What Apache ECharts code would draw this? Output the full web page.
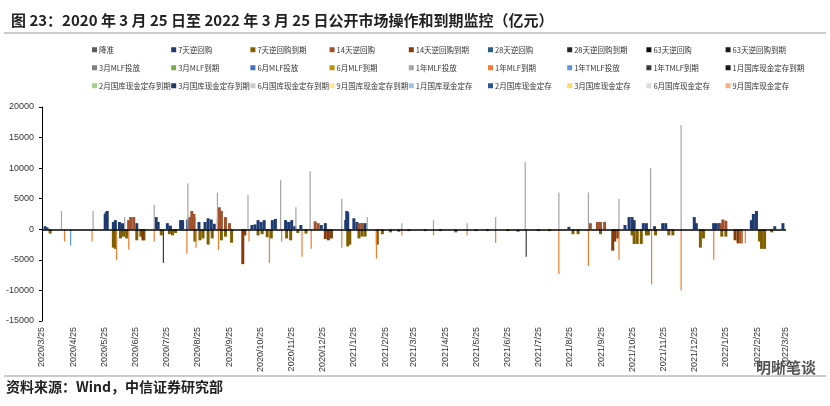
<!DOCTYPE html>
<html><head><meta charset="utf-8">
<script src="https://cdn.jsdelivr.net/npm/echarts@6/dist/echarts.min.js"></script>
<style>html,body{margin:0;padding:0;background:#fff}#c{width:830px;height:406px}</style>
</head><body><div id="c"></div>
<script>
const tickLabels = ['2020-03-25','2020-04-25','2020-05-25','2020-06-25','2020-07-25','2020-08-25','2020-09-25','2020-10-25','2020-11-25','2020-12-25','2021-01-25','2021-02-25','2021-03-25','2021-04-25','2021-05-25','2021-06-25','2021-07-25','2021-08-25','2021-09-25','2021-10-25','2021-11-25','2021-12-25','2022-01-25','2022-02-25','2022-03-25'];
const seriesNames = ['降准','7天逆回购','7天逆回购到期','14天逆回购','14天逆回购到期','28天逆回购','28天逆回购到期','63天逆回购','63天逆回购到期',
 '3月MLF投放','3月MLF到期','6月MLF投放','6月MLF到期','1年MLF投放','1年MLF到期','1年TMLF投放','1年TMLF到期','1月国库现金定存到期',
 '2月国库现金定存到期','3月国库现金定存到期','6月国库现金定存到期','9月国库现金定存到期','1月国库现金定存','2月国库现金定存','3月国库现金定存','6月国库现金定存','9月国库现金定存'];
const seriesColors = ['#595959','#1f3a6e','#7f6000','#a0522d','#843c0c','#2e5c8a','#262626','#0d0d0d','#1a1a1a',
 '#7f7f7f','#70ad47','#4472c4','#bf9000','#a5a5a5','#ed7d31','#5b9bd5','#3a3a3a','#1a1a1a',
 '#a9d18e','#203864','#c9c9c9','#ffe699','#9dc3e6','#2f5597','#ffd966','#dbdbdb','#f4b183'];

const rr7 = [['2020-03-28',500],['2020-03-30',300],['2020-05-26',2500],['2020-05-27',2800],['2020-05-28',3000],['2020-06-03',1200],['2020-06-05',1500],['2020-06-09',1200],['2020-06-12',1000],['2020-06-26',1000],
 ['2020-07-15',2000],['2020-07-17',1200],['2020-07-26',1000],['2020-07-29',600],['2020-08-08',1500],['2020-08-10',1500],['2020-08-15',1600],['2020-08-21',2000],['2020-08-26',1200],['2020-09-01',1200],['2020-09-04',1800],['2020-09-07',1600],['2020-09-10',900],
 ['2020-10-17',700],['2020-10-20',800],['2020-10-23',1500],['2020-10-26',1200],['2020-10-29',1500],['2020-11-06',1500],['2020-11-09',1700],['2020-11-19',1500],['2020-11-22',1200],['2020-11-25',1500],['2020-11-28',500],['2020-12-04',700],['2020-12-24',700],['2020-12-28',1000],
 ['2021-01-17',1500],['2021-01-18',3000],['2021-01-19',2800],['2021-01-25',1800],['2021-01-28',1200],['2021-02-02',1000],['2021-02-05',1000],
 ['2021-08-24',400],['2021-10-18',700],['2021-10-22',2000],['2021-10-25',2000],['2021-10-27',1500],['2021-11-05',1000],['2021-11-08',1000],['2021-11-16',500],['2021-11-24',1000],['2021-11-27',1000],['2021-12-25',2000],['2021-12-27',1000],
 ['2022-01-13',1000],['2022-01-15',1000],['2022-01-18',1000],['2022-02-19',1500],['2022-02-21',2500],['2022-02-24',3000],['2022-03-14',500],['2022-03-22',1000]];
const rr7due = [['2020-04-02',-700],['2020-06-03',-3000],['2020-06-05',-3200],['2020-06-10',-1500],['2020-06-13',-1200],['2020-06-16',-1500],['2020-06-26',-1800],['2020-06-30',-1200],['2020-07-03',-1800],
 ['2020-07-20',-1000],['2020-07-28',-800],['2020-07-31',-1000],['2020-08-03',-600],['2020-08-22',-2000],['2020-08-27',-1800],['2020-08-30',-1500],['2020-09-04',-2500],['2020-09-08',-1500],['2020-09-17',-1800],['2020-09-21',-1200],['2020-09-27',-2200],
 ['2020-10-23',-1000],['2020-10-27',-800],['2020-11-01',-1300],['2020-11-05',-1500],['2020-11-20',-1500],['2020-11-24',-1800],['2020-12-01',-600],['2020-12-09',-700],
 ['2021-01-19',-2800],['2021-01-21',-2500],['2021-01-30',-1500],['2021-02-02',-1200],['2021-02-05',-1200],['2021-02-17',-2500],['2021-02-22',-800],['2021-03-02',-500],['2021-03-10',-400],['2021-03-20',-300],
 ['2021-04-05',-300],['2021-04-20',-300],['2021-05-05',-500],['2021-05-25',-300],['2021-06-05',-300],['2021-06-25',-300],['2021-07-05',-400],['2021-07-25',-300],['2021-08-05',-300],
 ['2021-08-28',-800],['2021-09-02',-800],['2021-09-24',-800],['2021-10-25',-1000],['2021-10-27',-2400],['2021-10-30',-2400],['2021-11-03',-2400],['2021-11-08',-1000],['2021-11-10',-1000],['2021-11-17',-1000],['2021-11-30',-1000],['2021-12-04',-1000],
 ['2021-12-31',-3000],['2022-01-03',-1500],['2022-01-21',-1200],['2022-01-25',-1200],['2022-02-27',-2000],['2022-03-01',-3200],['2022-03-04',-3200],['2022-03-11',-500]];
const rr14 = [['2020-06-18',1500],['2020-06-20',2000],['2020-06-23',2000],['2020-08-17',2000],['2020-08-19',3000],['2020-08-21',2500],['2020-09-14',1800],['2020-09-15',3600],['2020-09-17',3000],['2020-09-21',2000],['2020-09-25',1000],
 ['2020-12-18',1300],['2020-12-21',1000],['2021-01-30',1000],['2021-02-02',1000],['2021-09-14',1000],['2021-09-21',1200],['2021-09-24',1200],['2021-09-28',1200],['2022-01-20',1000],['2022-01-22',1600],['2022-01-25',1400]];
const rr14due = [['2020-07-02',-1800],['2020-10-08',-5700],['2020-10-10',-1000],['2020-12-28',-1600],['2020-12-31',-1800],['2021-01-03',-1500],['2021-10-06',-3500],['2021-10-08',-2000],['2021-10-11',-1500],['2022-02-03',-1800],['2022-02-06',-2300],['2022-02-09',-2300]];
const mlf1y = [['2020-04-14',3000],['2020-05-15',3000],['2020-06-15',2000],['2020-07-14',4000],['2020-08-16',7500],['2020-09-14',6000],['2020-10-14',5600],['2020-11-15',8000],['2020-11-30',3600],['2020-12-14',9500],['2021-01-14',5000],['2021-02-08',2000],['2021-03-14',1000],
 ['2021-04-14',1500],['2021-05-17',1000],['2021-06-14',2000],['2021-07-13',11000],['2021-08-15',6000],['2021-09-13',6000],['2021-10-13',5000],['2021-11-13',10000],['2021-12-13',17000]];
const mlf1yDue = [['2020-04-17',-2000],['2020-05-14',-2000],['2020-06-07',-5000],['2020-06-19',-3300],['2020-07-14',-2000],['2020-08-15',-4000],['2020-08-24',-3000],['2020-09-15',-3400],['2020-10-15',-2000],['2020-11-04',-5500],['2020-11-16',-2000],
 ['2020-12-06',-4500],['2020-12-15',-3200],['2021-01-14',-3000],['2021-02-17',-4800],['2021-03-14',-1000],['2021-04-14',-1000],['2021-05-17',-1000],['2021-06-14',-2200],['2021-08-15',-7300],['2021-09-13',-6000],['2021-10-13',-5000],['2021-11-14',-9000],['2021-12-13',-10000],
 ['2022-01-14',-5000],['2022-02-10',-2300],['2022-02-14',-2300]];
const tmlf1y = [['2020-04-23',-2700]];
const tmlf1yDue = [['2020-07-23',-5500],['2021-07-14',-4500]];
const empty = [];
const seriesData = {'7天逆回购':rr7,'7天逆回购到期':rr7due,'14天逆回购':rr14,'14天逆回购到期':rr14due,'1年MLF投放':mlf1y,'1年MLF到期':mlf1yDue,'1年TMLF投放':tmlf1y,'1年TMLF到期':tmlf1yDue};
const thinSeries = ['1年MLF投放','1年MLF到期','1年TMLF投放','1年TMLF到期'];

const toT = s => +new Date(s+'T00:00:00Z');
const fmt = v => { const d = new Date(v); return d.getUTCFullYear()+'/'+(d.getUTCMonth()+1)+'/'+d.getUTCDate(); };
const tickTimes = tickLabels.map(toT);

const chart = echarts.init(document.getElementById('c'));
const legends = seriesNames.map((n,k) => ({data:[n], top:46 + Math.floor(k/9)*18, left:92 + (k%9)*79.2,
  itemWidth:5, itemHeight:5, itemGap:0, icon:'rect', padding:0,
  textStyle:{fontSize:7.5, color:'#333', padding:[0,0,0,-3], fontFamily:'Noto Sans CJK SC'}}));
chart.setOption({
  animation:false,
  title:{text:'图 23：2020 年 3 月 25 日至 2022 年 3 月 25 日公开市场操作和到期监控（亿元）', left:6, top:8,
    textStyle:{fontSize:15, fontWeight:'bold', color:'#222', fontFamily:'Noto Sans CJK SC'}},
  legend:legends,
  graphic:[
    {type:'line', shape:{x1:4,y1:33,x2:826,y2:33}, style:{stroke:'#999', lineWidth:1}},
    {type:'line', shape:{x1:4,y1:376,x2:826,y2:376}, style:{stroke:'#999', lineWidth:1}},
    {type:'text', left:6, top:380, style:{text:'资料来源：Wind，中信证券研究部', fontSize:14, fontWeight:'bold', fill:'#222', fontFamily:'Noto Sans CJK SC'}},
    {type:'text', right:14, top:360, style:{text:'明晰笔谈', fontSize:15, fontWeight:'bold', fill:'#555', fontFamily:'Noto Sans CJK SC'}}
  ],
  grid:{left:42, right:44, top:107, bottom:85},
  xAxis:{type:'value', min:tickTimes[0], max:tickTimes[tickTimes.length-1],
    axisLine:{show:false}, axisTick:{show:false}, splitLine:{show:false},
    axisLabel:{customValues:tickTimes, formatter:fmt, rotate:90, fontSize:9, color:'#333', margin:6, showMinLabel:true, showMaxLabel:true}},
  yAxis:{type:'value', min:-15000, max:20000, interval:5000, splitLine:{show:false},
    axisLine:{show:true, lineStyle:{color:'#000'}}, axisTick:{show:true, length:3},
    axisLabel:{fontSize:9, color:'#333', formatter:v => String(v)}},
  series: seriesNames.map((n,i) => ({name:n, type:'bar', data:(seriesData[n] || empty).map(p => [toT(p[0]), p[1]]),
    barWidth: thinSeries.includes(n) ? 1.2 : 3, barGap:'-100%',
    itemStyle:{color:seriesColors[i]},
    markLine: i===0 ? {symbol:'none', silent:true, label:{show:false}, lineStyle:{color:'#000', width:1.5, type:'solid'}, data:[{yAxis:0}]} : undefined}))
});
</script></body></html>
